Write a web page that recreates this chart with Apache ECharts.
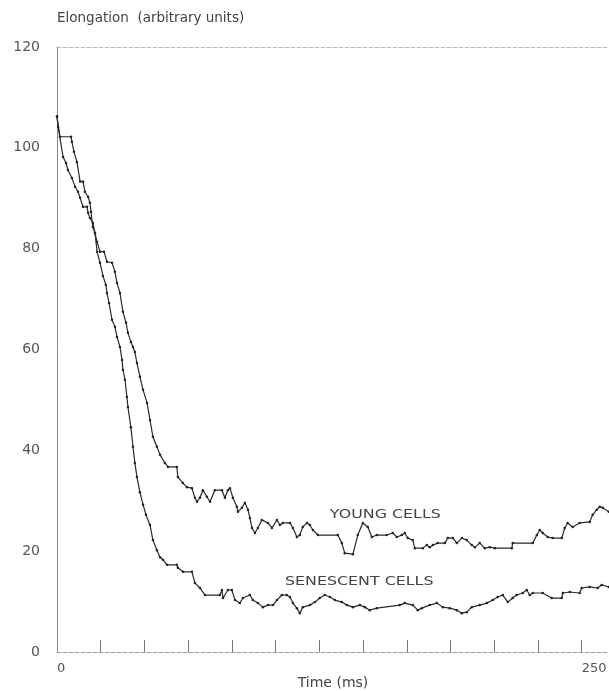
<!DOCTYPE html>
<html>
<head>
<meta charset="utf-8">
<script src="https://cdn.jsdelivr.net/npm/echarts@6/dist/echarts.min.js"></script>
<style>html,body{margin:0;padding:0;background:#fff}#c{width:609px;height:691px}</style>
</head>
<body>
<div id="c"></div>
<script>
// ---- data (time in ms, elongation in arbitrary units) ----
const youngCells = [
[0,106.2],[1.4,102.2],[6.7,102.2],[7.1,101.2],[8.1,99.2],[9.5,97.2],[11.0,93.3],[12.4,93.3],[13.3,91.3],[14.8,90.3],
[15.7,89.1],[16.2,87.3],[17.1,84.3],[18.1,83.1],[19.1,81.3],[20.5,79.4],[22.4,79.4],[23.8,77.4],[26.2,77.2],[27.6,75.4],
[28.6,73.2],[30.0,71.2],[31.4,67.5],[32.9,65.3],[33.8,63.3],[35.2,61.5],[36.2,60.5],[37.1,59.5],[38.1,57.3],[39.5,54.6],
[41.0,52.0],[42.9,49.4],[44.3,46.0],[45.7,42.7],[47.6,40.7],[49.1,39.1],[51.4,37.5],[52.9,36.7],[57.1,36.7],[57.6,34.7],
[60.0,33.5],[61.9,32.7],[64.3,32.5],[65.7,30.6],[66.7,29.8],[68.1,30.6],[69.5,32.1],[71.4,30.8],[72.9,29.8],[75.2,32.1],
[78.6,32.1],[80.0,30.6],[81.4,32.1],[82.4,32.5],[83.8,30.6],[85.7,28.8],[86.2,27.8],[88.1,28.6],[89.5,29.6],[91.0,28.2],
[91.9,26.6],[92.9,24.6],[94.3,23.6],[95.7,24.6],[97.6,26.2],[100.5,25.6],[102.4,24.6],[104.8,26.2],[106.2,25.2],[107.6,25.6],
[111.0,25.6],[112.4,24.6],[114.3,22.8],[115.7,23.2],[117.1,24.8],[119.1,25.6],[120.5,25.2],[121.9,24.2],[124.3,23.2],[133.8,23.2],
[135.7,21.6],[137.1,19.6],[141.0,19.4],[143.3,23.2],[145.7,25.6],[148.1,24.8],[150.0,22.8],[152.4,23.2],[157.1,23.2],[160.0,23.6],
[161.9,22.8],[164.3,23.2],[165.7,23.6],[167.1,22.6],[169.5,22.2],[170.5,20.6],[174.3,20.6],[176.2,21.2],[177.6,20.8],[179.1,21.2],
[181.4,21.6],[184.8,21.6],[186.2,22.6],[188.6,22.6],[190.5,21.6],[192.9,22.6],[195.2,22.2],[197.6,21.2],[199.1,20.8],[201.4,21.6],
[203.8,20.6],[206.2,20.8],[208.6,20.6],[216.7,20.6],[217.1,21.6],[226.7,21.6],[228.6,23.2],[230.0,24.2],[231.4,23.6],[233.8,22.8],
[236.2,22.6],[240.5,22.6],[241.9,24.6],[243.3,25.6],[245.7,24.8],[249.0,25.6],[253.8,25.8],[255.2,27.2],[257.1,28.2],[258.6,28.8],
[260.0,28.6],[262.9,27.8]
];
const senescentCells = [
[0,106.2],[0.5,104.2],[2.9,98.2],[4.3,97.0],[5.2,95.6],[7.1,94.0],[8.6,92.3],[10.0,91.3],[11.0,90.1],[12.4,88.3],
[14.3,88.3],[14.8,87.1],[15.7,86.1],[17.1,85.1],[18.1,83.1],[19.1,79.4],[20.5,77.2],[21.9,74.6],[23.3,72.8],[23.8,71.2],
[24.8,69.2],[26.2,65.9],[27.6,64.5],[28.6,62.5],[30.0,60.5],[31.0,57.9],[31.4,56.0],[32.4,54.0],[33.3,50.6],[33.8,48.6],
[35.2,44.6],[36.2,40.7],[37.1,37.5],[38.1,34.7],[39.5,31.7],[41.0,29.2],[42.4,27.2],[44.3,25.2],[45.7,22.2],[47.6,20.2],
[49.1,18.8],[50.5,18.3],[52.4,17.3],[57.1,17.3],[57.6,16.7],[60.0,15.9],[64.3,15.9],[65.7,13.7],[68.1,12.7],[70.5,11.3],
[77.6,11.3],[78.6,12.3],[79.1,10.7],[81.4,12.3],[83.3,12.3],[84.8,10.3],[87.1,9.7],[88.6,10.7],[91.9,11.3],[93.3,10.3],
[95.7,9.7],[98.1,8.9],[100.5,9.3],[102.9,9.3],[104.8,10.3],[107.1,11.3],[109.5,11.3],[111.0,10.9],[112.4,9.7],[114.3,8.7],
[115.7,7.7],[117.1,8.9],[120.5,9.3],[122.9,9.9],[125.2,10.7],[127.6,11.3],[130.0,10.9],[132.4,10.3],[135.7,9.9],[138.1,9.3],
[141.0,8.9],[144.3,9.3],[146.7,8.9],[149.0,8.3],[152.4,8.7],[163.3,9.3],[165.7,9.7],[169.5,9.3],[171.9,8.3],[173.8,8.7],
[177.6,9.3],[181.0,9.7],[183.8,8.9],[187.1,8.7],[190.5,8.3],[192.9,7.7],[195.2,7.9],[197.6,8.9],[201.4,9.3],[204.8,9.7],
[207.6,10.3],[210.0,10.9],[212.4,11.3],[214.8,9.9],[217.1,10.7],[219.0,11.3],[221.9,11.7],[223.8,12.3],[225.2,11.3],[226.7,11.7],
[231.4,11.7],[235.7,10.7],[240.5,10.7],[241.0,11.7],[244.3,11.9],[249.0,11.7],[250.0,12.7],[253.8,12.9],[257.6,12.7],[259.5,13.3],
[262.9,12.9]
];
const seriesNames = ['YOUNG CELLS', 'SENESCENT CELLS'];
const xTickValues = [20.8, 41.7, 62.5, 83.3, 104.2, 125, 145.8, 166.7, 187.5, 208.3, 229.2, 250];
const xLabelValues = [0, 250];
const yTickLabels = [0, 20, 40, 60, 80, 100, 120];

// annotation anchors (data coordinates)
const annotationAnchors = [[130, 27.2], [108.6, 13.9]];

const FONT = '"DejaVu Sans", "Liberation Sans", sans-serif';
const chart = echarts.init(document.getElementById('c'), null, {renderer: 'canvas'});

const lineSeries = (name, data) => ({
  name, type: 'line', data,
  showSymbol: true, symbol: 'circle', symbolSize: 2.5,
  lineStyle: {color: '#2a2a2a', width: 1.2},
  itemStyle: {color: '#222'},
  animation: false, z: 3
});

chart.setOption({
  backgroundColor: '#fff',
  animation: false,
  grid: {left: 57, right: 0, top: 47, bottom: 39, containLabel: false, outerBoundsMode: 'none'},
  xAxis: [{
    type: 'value', min: 0, max: 263,
    name: 'Time (ms)', nameLocation: 'middle', nameGap: 24, nameMoveOverlap: false,
    nameTextStyle: {fontFamily: FONT, fontSize: 14, color: '#444'},
    axisLine: {show: true, lineStyle: {color: '#999', type: 'dashed', width: 1}},
    axisTick: {show: true, inside: true, length: 12, customValues: xTickValues,
      lineStyle: {color: '#777', width: 1}},
    axisLabel: {show: true, customValues: xLabelValues, align: 'left', margin: 10,
      fontFamily: FONT, fontSize: 13, color: '#555'},
    splitLine: {show: false}
  }, {
    type: 'value', min: 0, max: 263, position: 'top',
    axisLine: {show: true, lineStyle: {color: '#bbb', type: 'dashed', width: 1}},
    axisTick: {show: false}, axisLabel: {show: false}, splitLine: {show: false}
  }],
  yAxis: {
    type: 'value', min: 0, max: 120, interval: 20,
    name: 'Elongation  (arbitrary units)', nameLocation: 'end', nameGap: 22,
    nameTextStyle: {fontFamily: FONT, fontSize: 13.5, color: '#444', align: 'left'},
    axisLine: {show: true, lineStyle: {color: '#888', width: 1}},
    axisTick: {show: false},
    axisLabel: {show: true, margin: 17, fontFamily: FONT, fontSize: 14, color: '#555',
      formatter: v => yTickLabels.includes(v) ? String(v) : ''},
    splitLine: {show: false}
  },
  series: [
    lineSeries(seriesNames[0], youngCells),
    lineSeries(seriesNames[1], senescentCells),
    {
      type: 'custom', name: 'labels', animation: false, silent: true,
      data: annotationAnchors.map((p, i) => [p[0], p[1], i]),
      renderItem: (params, api) => {
        const pt = api.coord([api.value(0), api.value(1)]);
        return {
          type: 'text', x: pt[0], y: pt[1], scaleX: 1.22,
          style: {text: seriesNames[api.value(2)], fontFamily: FONT, fontSize: 13,
            fill: '#444', textAlign: 'left', textVerticalAlign: 'middle'}
        };
      }
    }
  ]
});
</script>
</body>
</html>
